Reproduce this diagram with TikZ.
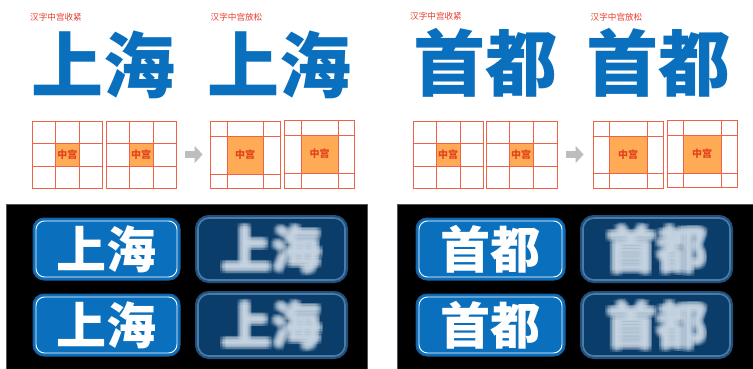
\documentclass[tikz,border=0pt]{standalone}
\usepackage{fontspec}
\newfontfamily\cjk{Noto Sans CJK SC}
\usetikzlibrary{arrows.meta,fit}
\definecolor{hzblue}{HTML}{0A70BE}
\definecolor{hzred}{HTML}{EA3A2A}
\definecolor{gridred}{HTML}{EE6248}
\definecolor{gridfill}{HTML}{FFAB55}
\definecolor{gridtext}{HTML}{E2421C}
\definecolor{arrowgray}{HTML}{BDBDBD}
\definecolor{badgeedge}{HTML}{1B5E9C}
\definecolor{blurfill}{HTML}{0A3D6A}
\definecolor{bluredge}{HTML}{4A7CA8}
\definecolor{blurglow}{HTML}{21507E}
\definecolor{blurtextc}{HTML}{D8E3EE}
\definecolor{paneledge}{HTML}{555555}
\newcommand{\mygrid}[9]{%
  \fill[gridfill] (#3,#7) rectangle (#4,#8);
  \path (#2,#6) coordinate (#1nw) (#5,#9) coordinate (#1se);
  \node[gridframe, fit=(#1nw)(#1se)] (#1) {};
  \draw[gridline] (#3,#6) -- (#3,#9) (#4,#6) -- (#4,#9)
                  (#2,#7) -- (#5,#7) (#2,#8) -- (#5,#8);
  \node[gridlabel] (#1l) at ({(#3+#4)/2},{(#7+#8)/2}) {中宫};
}
\newcommand{\mkbadge}[5]{%
  \node[badgeouter, minimum width=#4pt] (#1) at (#2,#3) {};
  \node[badgeinner, minimum width=#4pt-6pt] (#1i) at (#1) {};
  \node[badgetext] (#1t) at (#1) {#5};
}
\newcommand{\mkblur}[5]{%
  \node[blurouter, minimum width=#4pt] (#1) at (#2,#3) {};
  \foreach \dx [count=\i] in {-3,-1.5,0,1.5,3} {
    \foreach \dy [count=\j] in {-3,-1.5,0,1.5,3} {
      \node[blurtext] (#1t\i\j) at ([shift={(\dx,\dy)}]#1) {#5};
    }
  }
}
\begin{document}
\begin{tikzpicture}[x=1pt,y=-1pt,
  redlabel/.style={text=hzred, font=\cjk\fontsize{8.6}{9}\selectfont, inner sep=0},
  bigtext/.style={text=hzblue, font=\cjk\bfseries\fontsize{72}{72}\selectfont, inner sep=0},
  gridframe/.style={draw=gridred, line width=0.9pt, inner sep=0},
  gridline/.style={draw=gridred, line width=0.9pt},
  gridlabel/.style={text=gridtext, font=\cjk\bfseries\fontsize{10}{10}\selectfont, inner sep=0},
  blockarrow/.style={draw=arrowgray, line width=7pt, -{Triangle[length=8pt,width=17pt]}},
  badgeouter/.style={rectangle, rounded corners=11pt, fill=hzblue, draw=badgeedge, line width=1pt, minimum height=62pt},
  badgeinner/.style={rectangle, rounded corners=8.5pt, draw=white, line width=0.9pt, minimum height=56pt},
  badgetext/.style={text=white, font=\cjk\bfseries\fontsize{50}{50}\selectfont, inner sep=0},
  blurouter/.style={rectangle, rounded corners=11pt, fill=blurfill, draw=bluredge, line width=1.6pt, minimum height=62pt,
     preaction={draw=blurglow, line width=6pt}},
  blurtext/.style={text=blurtextc, text opacity=0.1, font=\cjk\bfseries\fontsize{50}{50}\selectfont, inner sep=0},
]
\useasboundingbox (0,0) rectangle (753,369);
\fill[white] (0,0) rectangle (753,369);

% red captions
\node[redlabel] (c1) at (56,17) {汉字中宫收紧};
\node[redlabel] (c2) at (236.5,17) {汉字中宫放松};
\node[redlabel] (c3) at (436,16) {汉字中宫收紧};
\node[redlabel] (c4) at (616.5,17) {汉字中宫放松};

% big blue characters
\node[bigtext] (w1) at (103,64.5) {上海};
\node[bigtext] (w2) at (279.5,64.5) {上海};
\node[bigtext] (w3) at (485,62.5) {首都};
\node[bigtext] (w4) at (658.5,63) {首都};

% grids, left half
\mygrid{g1}{32}{55.7}{79}{102}{121}{143.5}{166.5}{188}
\mygrid{g2}{106}{129}{153}{176}{121}{143.5}{166.5}{188}
\mygrid{g3}{210}{227}{263}{280}{121}{136}{174}{188}
\mygrid{g4}{284}{301}{338}{354}{120}{135}{173}{188}
\draw[blockarrow] ([xshift=9pt]g2.east) -- ([xshift=-7pt]g3.west);

% grids, right half
\mygrid{g5}{413}{436}{460}{483}{121}{143.5}{166.5}{188}
\mygrid{g6}{486}{509}{533}{557}{121}{143.5}{166.5}{188}
\mygrid{g7}{593}{609}{647}{663}{121}{136}{173}{188}
\mygrid{g8}{667}{683}{721}{737}{120}{135}{173}{187}
\draw[blockarrow] ([xshift=9pt]g6.east) -- ([xshift=-9pt]g7.west);

% black panels
\fill[black] (6,204) rectangle (367,369);
\draw[paneledge, line width=0.6pt] (6,369) -- (6,204) -- (367,204) -- (367,369);
\fill[black] (397,204) rectangle (753,369);
\draw[paneledge, line width=0.6pt] (397,369) -- (397,204) -- (753,204);

% badges
\mkbadge{b1}{106.5}{249}{147}{上海}
\mkbadge{b2}{106.5}{325}{147}{上海}
\mkblur{b3}{271.5}{249}{147}{上海}
\mkblur{b4}{271.5}{325}{147}{上海}
\mkbadge{b5}{490.5}{249}{149}{首都}
\mkbadge{b6}{490.5}{325}{149}{首都}
\mkblur{b7}{656.5}{249}{147}{首都}
\mkblur{b8}{656.5}{325}{147}{首都}
\end{tikzpicture}
\end{document}
